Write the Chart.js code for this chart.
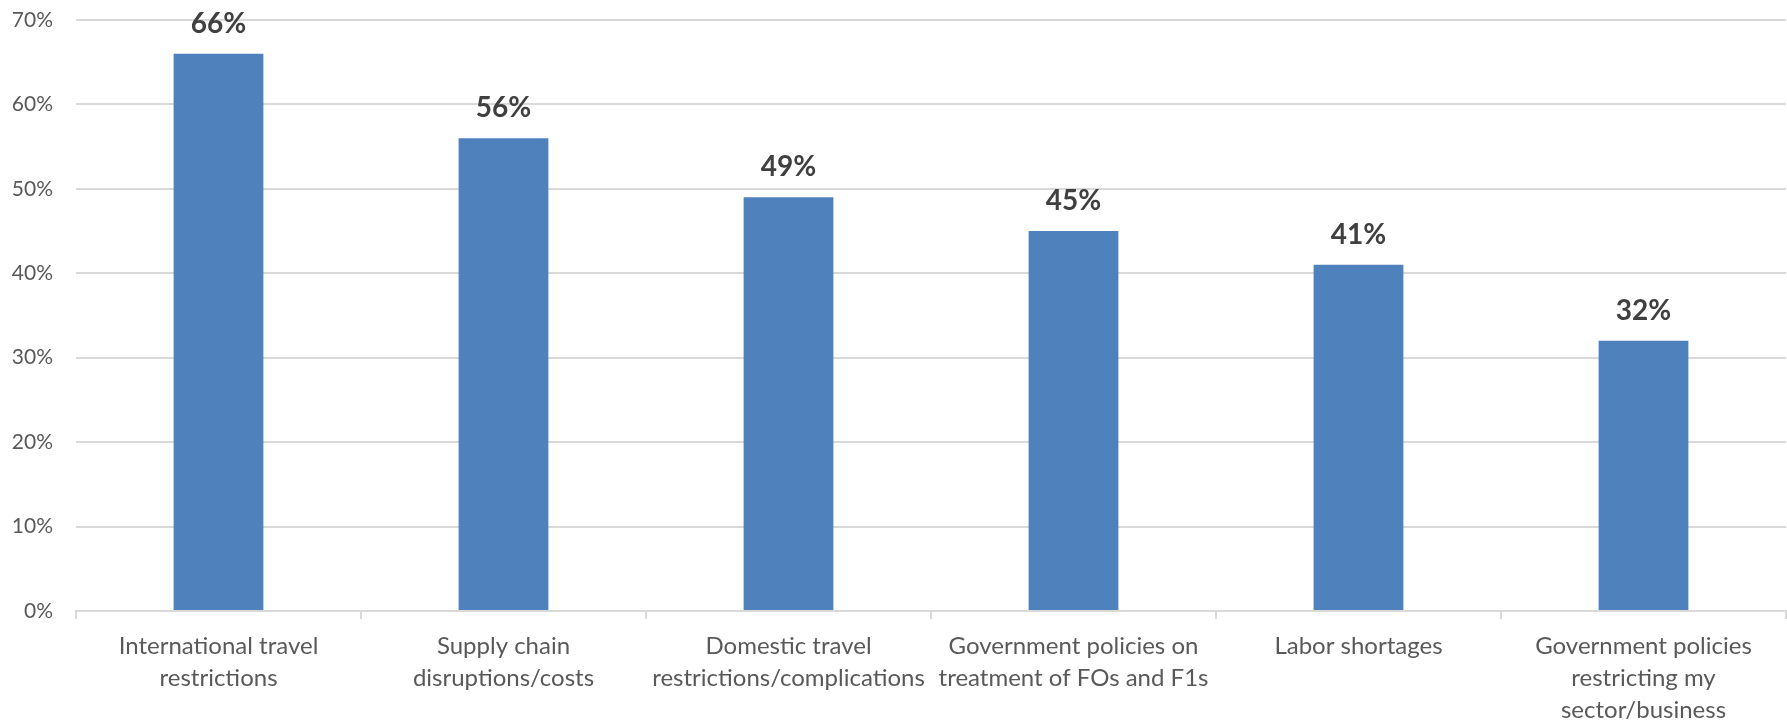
<!DOCTYPE html>
<html>
<head>
<meta charset="utf-8">
<script src="https://cdn.jsdelivr.net/npm/chart.js@4"></script>
<style>
  html, body { margin: 0; padding: 0; background: #fff; }
  #wrap { width: 1787px; height: 723px; }
</style>
</head>
<body>
<div id="wrap"><canvas id="obstacleChart" width="1787" height="723"></canvas></div>
<script>
// Categories (wrapped the way the original breaks them)
const categories = [
  ['International travel', 'restrictions'],
  ['Supply chain', 'disruptions/costs'],
  ['Domestic travel', 'restrictions/complications'],
  ['Government policies on', 'treatment of FOs and F1s'],
  ['Labor shortages'],
  ['Government policies', 'restricting my', 'sector/business']
];

// Share of respondents (%)
const shares = [66, 56, 49, 45, 41, 32];

// Y axis ticks
const yMin = 0;
const yMax = 70;
const yStep = 10;

Chart.defaults.font.family = 'Lato, "Open Sans", sans-serif';

// draws the bold % above each bar
const valueLabels = {
  id: 'valueLabels',
  afterDatasetsDraw(chart) {
    const ctx = chart.ctx;
    const meta = chart.getDatasetMeta(0);
    ctx.save();
    ctx.font = 'bold 28px Lato, "Open Sans", sans-serif';
    ctx.fillStyle = '#404040';
    ctx.textAlign = 'center';
    ctx.textBaseline = 'alphabetic';
    meta.data.forEach((bar, i) => {
      ctx.fillText(shares[i] + '%', bar.x, bar.y - 21);
    });
    ctx.restore();
  }
};

const ctx = document.getElementById('obstacleChart').getContext('2d');

new Chart(ctx, {
  type: 'bar',
  data: {
    labels: categories,
    datasets: [{
      data: shares,
      backgroundColor: '#4F81BD',
      barPercentage: 0.315,
      categoryPercentage: 1
    }]
  },
  options: {
    responsive: false,
    animation: false,
    layout: { padding: { top: 20, right: 1, left: 0, bottom: 0 } },
    plugins: {
      legend: { display: false },
      tooltip: { enabled: false }
    },
    scales: {
      x: {
        grid: {
          offset: true,
          drawOnChartArea: false,
          drawTicks: true,
          tickLength: 8,
          color: '#d9d9d9',
          lineWidth: 2
        },
        border: { color: '#d9d9d9', width: 2 },
        ticks: {
          color: '#595959',
          padding: 11,
          maxRotation: 0,
          autoSkip: false,
          font: { size: 24, lineHeight: '32px' }
        },
        afterFit(scale) { scale.height = 112; }
      },
      y: {
        min: yMin,
        max: yMax,
        grid: { color: '#d9d9d9', lineWidth: 2, drawTicks: false },
        border: { display: false },
        ticks: {
          stepSize: yStep,
          color: '#595959',
          padding: 23,
          font: { size: 21 },
          callback: v => v + '%'
        },
        afterFit(scale) {
          scale.width = 76;
          // tick padding would otherwise push the plot top down
          scale.paddingTop = 0;
          scale.paddingBottom = 0;
        }
      }
    }
  },
  plugins: [valueLabels]
});
</script>
</body>
</html>
